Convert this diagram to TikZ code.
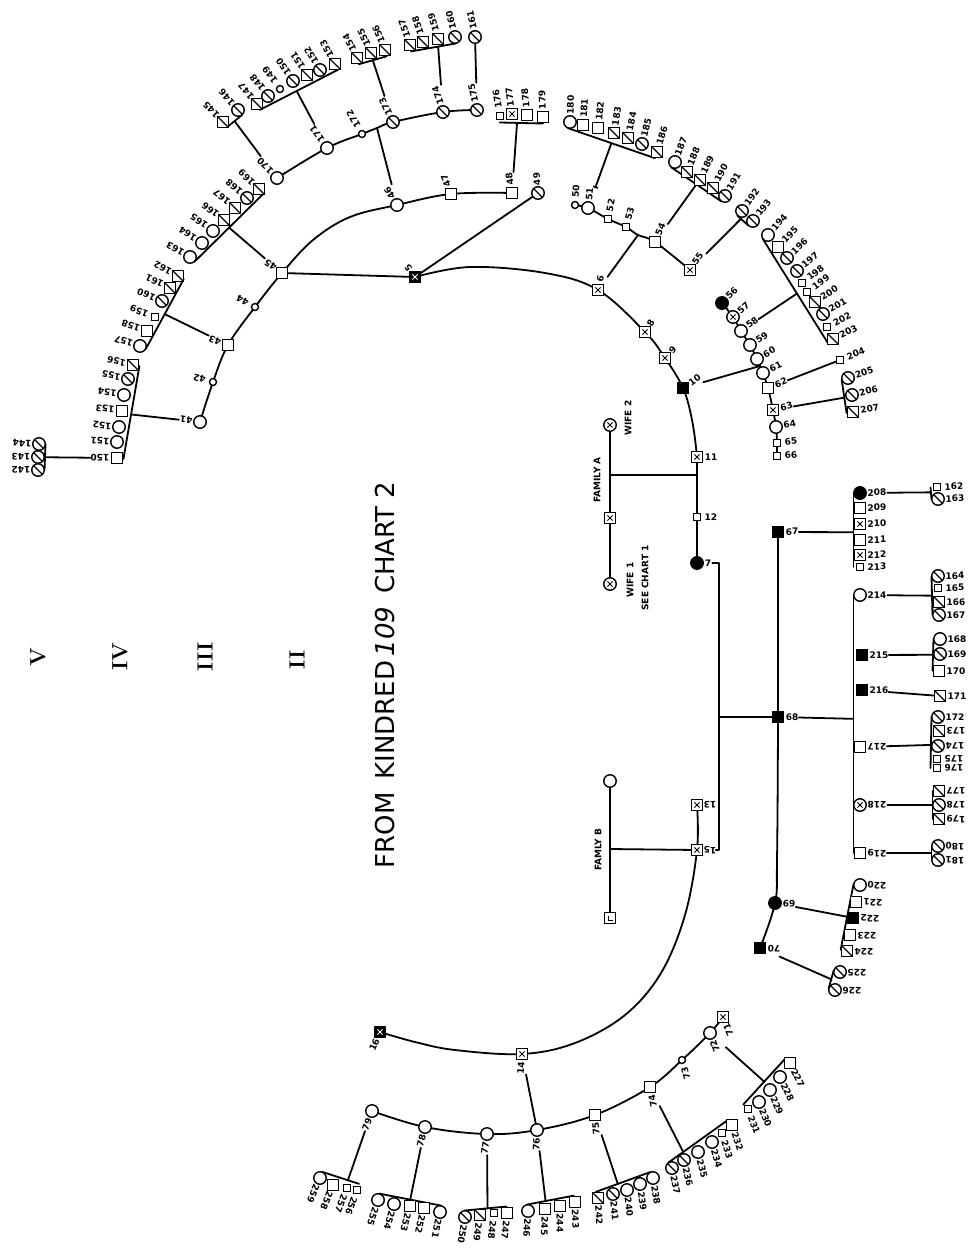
\documentclass[tikz,border=0pt]{standalone}
\usepackage{fontspec}
\usetikzlibrary{calc,arrows.meta}
\newfontfamily\lblfont{DejaVu Sans}
\newcommand\numfont{\lblfont\bfseries\fontsize{9}{9}\selectfont}
\pgfdeclarelayer{paper}
\pgfdeclarelayer{background}
\pgfsetlayers{paper,background,main}

\tikzset{
  sym/.style={draw, line width=1.4pt, fill=white, inner sep=0pt, outer sep=0pt},
  sq/.style={sym, rectangle, minimum size=11.5pt},
  sm/.style={sym, rectangle, minimum size=6.5pt},
  ci/.style={sym, circle, minimum size=12.5pt},
  cism/.style={sym, circle, minimum size=7pt},
  slashmark/.style={path picture={\draw[line width=1.1pt] (path picture bounding box.north west) -- (path picture bounding box.south east);}},
  crossmark/.style={path picture={\draw[line width=.9pt,#1] (path picture bounding box.center) +(-2.6pt,-2.6pt) -- +(2.6pt,2.6pt) +(-2.6pt,2.6pt) -- +(2.6pt,-2.6pt);}},
  crossmark/.default=black,
  halfmark/.style={path picture={\fill (path picture bounding box.south west) rectangle (path picture bounding box.north);}},
  sqs/.style={sq, slashmark},
  sqx/.style={sq, crossmark},
  sqf/.style={sq, fill=black},
  sqh/.style={sq, halfmark},
  sqd/.style={sq, fill=black, crossmark=white},
  cis/.style={ci, slashmark},
  cix/.style={ci, crossmark},
  cif/.style={ci, fill=black},
  cih/.style={ci, halfmark},
  ciq/.style={ci, path picture={\fill (path picture bounding box.center) circle (1.3pt);}},
  sqq/.style={sq, path picture={\draw[line width=.9pt] (path picture bounding box.center) +(-2pt,2.5pt) |- +(2.5pt,-2pt);}},
  num/.style={font=\numfont, inner sep=0pt},
  famtext/.style={font=\lblfont\bfseries\fontsize{9}{9}\selectfont, rotate=90, inner sep=0pt},
  numeral/.style={font=\rmfamily\bfseries\fontsize{22}{22}\selectfont, rotate=90, inner sep=0pt},
  titletext/.style={font=\lblfont\fontsize{26}{26}\selectfont, rotate=90, inner sep=0pt},
  sib/.style={line width=1.8pt, line cap=round, line join=round},
  desc/.style={sib, shorten <=#1},
  desc/.default=15pt
}

% persons of one sibship: centre for the label angle, flip, label distance, list
\newcommand\grp[5]{%
  \foreach \nm/\st/\xx/\yy/\lb in {#5}{%
    \node[\st] (\nm) at (\xx,\yy) {};
    \pgfmathanglebetweenpoints{\pgfpointxy{#1}{#2}}{\pgfpointxy{\xx}{\yy}}%
    \let\lblang\pgfmathresult
    \node[num, rotate=\lblang+#3] (\nm-l) at ($(\nm)+(\lblang:#4pt)$) {\lb};
  }%
}
% sibship bracket along the inner side of a group
\newcommand\brk[4]{%
  \coordinate (#1s) at ($(#2)!6.5pt!-90:(#3)$);
  \coordinate (#1e) at ($(#3)!6.5pt!90:(#2)$);
  \coordinate (#1) at ($(#1s)!#4!(#1e)$);
  \draw[sib] (#1s) -- (#1e);
}

\begin{document}
\begin{tikzpicture}[x=1pt, y=-1pt]
\useasboundingbox (0,0) rectangle (972,1249);
\begin{pgfonlayer}{paper}
  \fill[white] (0,0) rectangle (972,1249);
\end{pgfonlayer}

% headings
\node[titletext] (title) at (385,675) {FROM\hspace{0.5em}KINDRED\,{\itshape 109}\hspace{0.5em}CHART 2};
\node[numeral] (rV) at (38,657) {V};
\node[numeral] (rIV) at (120,657) {IV};
\node[numeral] (rIII) at (205,657) {III};
\node[numeral] (rII) at (297,660) {II};

% generation I
\node[cix] (wife2) at (610,425) {};
\node[sqx] (famA) at (610,518) {};
\node[cix] (wife1) at (610,584) {};
\node[ciq] (famBw) at (610,781) {};
\node[sqq] (famBh) at (610,918) {};
\node[famtext] (tFamA) at (597,480) {FAMILY A};
\node[famtext] (tWife2) at (628,418) {WIFE 2};
\node[famtext] (tWife1) at (630,580) {WIFE 1};
\node[famtext] (tSee) at (645,578) {SEE CHART 1};
\node[famtext] (tFamB) at (598,850) {FAMLY B};

% generation II
\grp{560}{470}{0}{11}{p5/sqd/415/277/5, p6/sqx/598/290/6, p8/sqx/645/332/8, p9/sqx/665/358/9}
\grp{560}{470}{0}{14}{p10/sqf/683/388/10}
\grp{-8000}{470}{0}{14}{p11/sqx/697/457/11, p12/sm/697/517/12}
\grp{-8000}{470}{0}{11}{p7/cif/697/563/7}
\grp{-8000}{720}{180}{13}{p13/sqx/697/805/13, p15/sqx/697/850/15}
\grp{560}{620}{180}{14}{p14/sqx/522/1054/14, p16/sqd/380/1032/16}

% generation III
\grp{560}{470}{0}{14}{p41/ci/200/422/41, p42/cism/213/382/42, p43/sq/228/345/43, p44/cism/255/307/44,
  p45/sq/282/273/45, p46/ci/397/205/46, p47/sq/451/194/47, p48/sq/512/193/48, p49/cis/538/193/49,
  p50/cism/575/205/50, p51/ci/588/208/51, p52/sm/608/219/52, p53/sm/626/227/53, p54/sq/655/242/54,
  p55/sqx/690/270/55, p56/cif/722/303/56, p57/cix/733/317/57, p58/ci/741/331/58, p59/ci/750/345/59,
  p60/ci/757/359/60, p61/ci/763/373/61, p62/sq/768/388/62, p63/sqx/773/410/63, p64/ci/776/427/64,
  p65/sm/777/443/65, p66/sm/777/456/66}
\grp{-8000}{720}{0}{14}{p67/sqf/778/532/67, p68/sqf/778/717/68}
\grp{-8000}{720}{180}{14}{p69/cif/775/903/69, p70/sqf/760/948/70}
\grp{560}{620}{180}{14}{p71/sqx/723/1017/71, p72/ci/710/1033/72, p73/cism/682/1060/73, p74/sq/650/1087/74,
  p75/sq/595/1115/75, p76/ci/537/1130/76, p77/ci/487/1134/77, p78/ci/425/1127/78, p79/ci/372/1111/79}

% generation IV
\grp{560}{470}{0}{17}{q150/sq/117/458/150, q151/ci/117/442/151, q152/ci/119/427/152, q153/sq/122/411/153,
  q154/ci/124/395/154, q155/cis/128/379/155, q156/sqs/133/365/156,
  q157/ci/140/346/157, q158/sq/147/331/158, q159/sm/155/317/159, q160/cis/162/301/160, q161/sqs/170/288/161, q162/sqs/178/276/162,
  q163/ci/190/257/163, q164/ci/202/243/164, q165/ci/213/231/165, q166/sqs/224/220/166, q167/sqs/235/208/167,
  q168/cis/247/198/168, q169/sqs/259/189/169,
  q170/ci/277/178/170, q171/ci/327/148/171, q172/cism/362/134/172, q173/cis/393/122/173, q174/cis/443/112/174, q175/cis/477/110/175,
  q176/sm/500/116/176, q177/sqx/512/114/177, q178/sq/527/115/178, q179/sq/543/117/179,
  q180/ci/570/122/180, q181/sq/583/125/181, q182/sq/598/128/182, q183/sqs/614/133/183, q184/sqs/628/138/184,
  q185/cis/642/144/185, q186/sqs/657/152/186,
  q187/ci/675/162/187, q188/sqs/687/172/188, q189/sqs/700/180/189, q190/sqs/713/188/190, q191/cis/725/196/191,
  q192/cis/742/211/192, q193/cis/753/221/193,
  q194/ci/768/235/194, q195/sq/778/247/195, q196/cis/787/258/196, q197/cis/797/271/197, q198/sm/802/283/198,
  q199/sm/807/292/199, q200/sqs/815/302/200, q201/cis/823/314/201, q202/sm/827/327/202, q203/sqs/833/339/203,
  q204/sm/840/360/204, q205/cis/848/378/205, q206/cis/852/395/206, q207/sqs/853/412/207}
\grp{-8000}{720}{0}{17}{q208/cif/860/493/208, q209/sqh/860/508/209, q210/sqx/860/524/210, q211/sq/860/540/211,
  q212/sqx/860/555/212, q213/sm/860/567/213, q214/ci/860/595/214, q215/sqf/862/655/215, q216/sqf/862/690/216}
\grp{-8000}{720}{180}{17}{q217/sq/860/747/217, q218/cix/860/805/218, q219/sqh/860/853/219,
  q220/ci/860/885/220, q221/sq/856/902/221, q222/sqf/853/918/222, q223/sq/850/935/223, q224/sqs/847/951/224,
  q225/cis/840/972/225, q226/cis/835/990/226}
\grp{560}{620}{0}{17}{q227/sq/790/1063/227, q228/ci/780/1077/228, q229/ci/770/1090/229, q230/ci/759/1102/230, q231/sm/748/1109/231,
  q232/sq/732/1125/232, q233/sm/722/1133/233, q234/ci/712/1142/234, q235/ci/698/1152/235, q236/cis/684/1160/236, q237/cis/672/1168/237,
  q238/ci/653/1178/238, q239/ci/640/1184/239, q240/ci/627/1190/240, q241/cis/613/1194/241, q242/sqs/598/1198/242,
  q243/sq/575/1202/243, q244/sq/560/1206/244, q245/sq/545/1209/245, q246/ci/528/1211/246,
  q247/sq/507/1213/247, q248/sm/494/1213/248, q249/sqs/480/1215/249, q250/cis/465/1217/250,
  q251/ci/440/1212/251, q252/sq/424/1208/252, q253/sq/410/1206/253, q254/ci/394/1204/254, q255/ci/378/1200/255,
  q256/sm/357/1190/256, q257/sm/347/1188/257, q258/sq/333/1185/258, q259/ci/320/1178/259}

% generation V
\grp{560}{470}{0}{17}{v142/cis/38/470/142, v143/cis/38/457/143, v144/cis/39/444/144,
  v145/sqs/223/122/145, v146/cis/238/110/146,
  v147/sqs/257/104/147, v148/cis/268/96/148, v149/cism/280/89/149, v150/cis/293/81/150, v151/sqs/307/75/151,
  v152/cis/320/70/152, v153/sqs/335/64/153,
  v154/sqs/357/58/154, v155/sqs/371/53/155, v156/sqs/385/50/156,
  v157/sqs/410/45/157, v158/sqs/423/42/158, v159/sqs/438/39/159, v160/cis/455/37/160, v161/cis/475/37/161}
\grp{-8000}{720}{0}{17}{w162/sm/937/487/162, w163/cis/938/499/163, w164/cis/938/576/164, w165/sm/938/588/165,
  w166/sqs/939/602/166, w167/cis/939/615/167, w168/cih/940/639/168, w169/cis/940/654/169, w170/sqh/939/671/170,
  w171/sqs/940/696/171, w172/cis/938/717/172}
\grp{-8000}{720}{180}{17}{w173/sqs/939/731/173, w174/cis/938/746/174, w175/sm/937/759/175, w176/sm/937/768/176,
  w177/sqs/939/791/177, w178/cis/939/805/178, w179/sqs/939/819/179, w180/cis/938/846/180, w181/cis/938/860/181}

% bends and junctions
\coordinate (a1) at (470,267);
\coordinate (a2) at (545,273);
\coordinate (a3) at (692,420);
\coordinate (jA) at (697,475);
\coordinate (fA) at (610,475);
\coordinate (fB) at (610,849);
\coordinate (b1) at (685,915);
\coordinate (b2) at (661,973);
\coordinate (b3) at (625,1015);
\coordinate (b4) at (575,1043);
\coordinate (b5) at (455,1050);
\coordinate (b6) at (415,1042);
\coordinate (c1) at (313,240);
\coordinate (c2) at (350,217);
\coordinate (c3) at (777,860);
\coordinate (j6) at (638,235);
\coordinate (j10) at (760,366);
\coordinate (j46) at (377,128);
\coordinate (m7) at (719,563);
\coordinate (d7) at (719,717);

\begin{pgfonlayer}{background}
  % sibship arcs
  \draw[sib] plot[smooth, tension=.6] coordinates {(p5) (a1) (a2) (p6) (p8) (p9) (p10) (a3) (p11) (jA) (p12) (p7)};
  \draw[sib] plot[smooth, tension=.6] coordinates {(p13) (p15) (b1) (b2) (b3) (b4) (p14) (b5) (b6) (p16)};
  \draw[sib] plot[smooth, tension=.6] coordinates {(p41) (p42) (p43) (p44) (p45) (c1) (c2) (p46) (p47) (p48)};
  \draw[sib] plot[smooth, tension=.6] coordinates {(p50) (p51) (p52) (p53) (j6) (p54) (p55)};
  \draw[sib] plot[smooth, tension=.6] coordinates {(p56) (p57) (p58) (p59) (p60) (j10) (p61) (p62) (p63) (p64) (p65) (p66)};
  \draw[sib] plot[smooth, tension=.6] coordinates {(p67) (p68) (c3) (p69) (p70)};
  \draw[sib] plot[smooth, tension=.6] coordinates {(p71) (p72) (p73) (p74) (p75) (p76) (p77) (p78) (p79)};
  \draw[sib] plot[smooth, tension=.6] coordinates {(q170) (q171) (q172) (j46) (q173) (q174) (q175)};

  % families and marriages
  \draw[sib] (wife2) -- (famA) -- (wife1);
  \draw[sib] (famBw) -- (famBh);
  \draw[sib] (fA) -- (jA);
  \draw[sib] (fB) -- (p15);
  \draw[sib, shorten <=9pt, shorten >=13pt] (p7) -- (m7) |- (p15);
  \draw[sib] (d7) -- (p68);
  \draw[sib] (p5) -- (p45);
  \draw[sib] (p5) -- (p49);
  \draw[desc=9pt] (p6) -- (j6);
  \draw[desc] (p10) -- (j10);
  \draw[desc] (p46) -- (j46);
  \draw[desc] (p14) -- (p76);

  % descents to the groups
  \brk{g41}{q150}{q156}{.48} \draw[desc] (p41) -- (g41);
  \brk{g150}{v142}{v144}{.5} \draw[desc=21pt] (q150) -- (g150);
  \brk{g43}{q157}{q162}{.5} \draw[desc] (p43) -- (g43);
  \brk{g45}{q163}{q169}{.5} \draw[desc] (p45) -- (g45);
  \brk{g170}{v145}{v146}{.5} \draw[desc=21pt] (q170) -- (g170);
  \brk{g171}{v147}{v153}{.47} \draw[desc=21pt] (q171) -- (g171);
  \brk{g173}{v154}{v156}{.5} \draw[desc=21pt] (q173) -- (g173);
  \brk{g174}{v157}{v160}{.6} \draw[desc=21pt] (q174) -- (g174);
  \draw[desc=21pt] (q175) -- (v161);
  \brk{g48}{q176}{q179}{.4} \draw[desc] (p48) -- (g48);
  \brk{g51}{q180}{q186}{.5} \draw[desc, {Bar[width=5pt]}-] (p51) -- (g51);
  \brk{g54}{q187}{q191}{.5} \draw[desc] (p54) -- (g54);
  \brk{g55}{q192}{q193}{.3} \draw[desc] (p55) -- (g55);
  \brk{g58}{q194}{q203}{.53} \draw[desc] (p58) -- (g58);
  \draw[desc] (p62) -- (q204);
  \brk{g63}{q205}{q207}{.55} \draw[desc] (p63) -- (g63);
  \brk{g67}{q208}{q213}{.53} \draw[desc] (p67) -- (g67);
  \brk{g68}{q214}{q219}{.48} \draw[desc] (p68) -- (g68);
  \brk{g208}{w162}{w163}{.4} \draw[desc=21pt] (q208) -- (g208);
  \brk{g214}{w164}{w167}{.5} \draw[desc=21pt] (q214) -- (g214);
  \brk{g215}{w168}{w170}{.5} \draw[desc=21pt] (q215) -- (g215);
  \draw[desc=21pt] (q216) -- (w171);
  \brk{g217}{w172}{w176}{.55} \draw[desc=21pt] (q217) -- (g217);
  \brk{g218}{w177}{w179}{.5} \draw[desc=21pt] (q218) -- (g218);
  \brk{g219}{w180}{w181}{.5} \draw[desc=21pt] (q219) -- (g219);
  \brk{g69}{q220}{q224}{.5} \draw[desc] (p69) -- (g69);
  \brk{g70}{q225}{q226}{.5} \draw[desc] (p70) -- (g70);
  \brk{g72}{q227}{q231}{.5} \draw[desc] (p72) -- (g72);
  \brk{g74}{q232}{q237}{.75} \draw[desc] (p74) -- (g74);
  \brk{g75}{q238}{q242}{.6} \draw[desc] (p75) -- (g75);
  \brk{g76}{q243}{q246}{.6} \draw[desc] (p76) -- (g76);
  \brk{g77}{q247}{q250}{.45} \draw[desc] (p77) -- (g77);
  \brk{g78}{q251}{q255}{.5} \draw[desc] (p78) -- (g78);
  \brk{g79}{q256}{q259}{.3} \draw[desc] (p79) -- (g79);
\end{pgfonlayer}
\end{tikzpicture}
\end{document}
